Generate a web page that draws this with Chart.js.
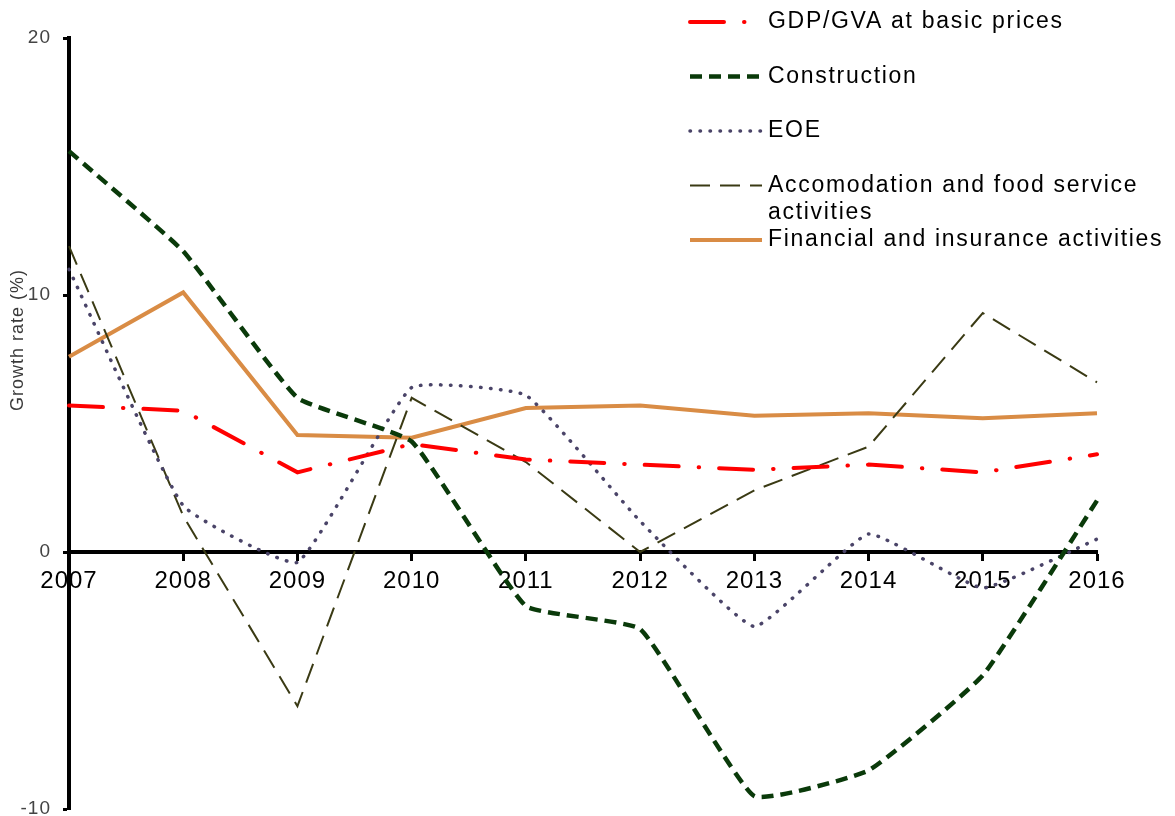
<!DOCTYPE html>
<html>
<head>
<meta charset="utf-8">
<script src="https://cdn.jsdelivr.net/npm/chart.js@4.4.1/dist/chart.umd.min.js"></script>
<style>
  html, body { margin: 0; padding: 0; background: #ffffff; }
  #wrap { width: 1175px; height: 816px; position: relative; }
</style>
</head>
<body>
<div id="wrap"><canvas id="c" width="1175" height="816"></canvas></div>
<script>
// Annual growth rates (%) by sector
const years = ['2007', '2008', '2009', '2010', '2011', '2012', '2013', '2014', '2015', '2016'];
const gdp = [5.7, 5.5, 3.1, 4.2, 3.6, 3.4, 3.2, 3.4, 3.1, 3.8];
const construction = [15.6, 11.7, 6.0, 4.3, -2.1, -3.0, -9.5, -8.5, -4.8, 2.0];
const eoe = [11.0, 1.8, -0.4, 6.4, 6.1, 1.2, -2.9, 0.7, -1.4, 0.5];
const accommodation = [11.9, 1.4, -6.0, 6.0, 3.5, 0.0, 2.4, 4.1, 9.3, 6.6];
const financial = [7.6, 10.1, 4.55, 4.45, 5.6, 5.7, 5.3, 5.4, 5.2, 5.4];
const yTicks = [-10, 0, 10, 20];
const yTitle = 'Growth rate (%)';

const FONT = '"Liberation Sans", Arial, Helvetica, sans-serif';
Chart.defaults.font.family = FONT;

// Slightly open letter spacing for the axis labels
const spacingPlugin = {
  id: 'spacing',
  beforeDraw(chart) { chart.ctx.letterSpacing = '1px'; },
  beforeLayout(chart) { chart.ctx.letterSpacing = '1px'; }
};

// Y axis title, placed beside the upper half of the axis
const yTitlePlugin = {
  id: 'yTitle',
  afterDraw(chart) {
    const ctx = chart.ctx;
    ctx.save();
    ctx.translate(18, 340);
    ctx.rotate(-Math.PI / 2);
    ctx.letterSpacing = '1px';
    ctx.font = '18px ' + FONT;
    ctx.fillStyle = '#3a3a3a';
    ctx.textAlign = 'center';
    ctx.textBaseline = 'middle';
    ctx.fillText(yTitle, 0, 0);
    ctx.restore();
  }
};

// Legend drawn at the top right, over the plot, with wrapped labels
const sideLegend = {
  id: 'sideLegend',
  afterDraw(chart, args, opts) {
    const ctx = chart.ctx;
    ctx.save();
    ctx.font = opts.font;
    ctx.letterSpacing = opts.letterSpacing;
    ctx.textBaseline = 'middle';
    ctx.textAlign = 'left';
    const maxW = chart.width - opts.textX - 4;
    chart.data.datasets.forEach((ds, i) => {
      const y = opts.firstY + i * opts.step;
      ctx.save();
      ctx.strokeStyle = ds.borderColor;
      ctx.lineWidth = ds.borderWidth;
      ctx.lineCap = ds.borderCapStyle || 'butt';
      ctx.setLineDash(ds.borderDash || []);
      ctx.beginPath();
      ctx.moveTo(opts.lineX0, y);
      ctx.lineTo(opts.lineX1, y);
      ctx.stroke();
      ctx.restore();
      // word wrap
      const words = ds.label.split(' ');
      const lines = [];
      let cur = '';
      words.forEach(w => {
        const t = cur ? cur + ' ' + w : w;
        if (ctx.measureText(t).width > maxW && cur) { lines.push(cur); cur = w; }
        else cur = t;
      });
      if (cur) lines.push(cur);
      ctx.fillStyle = '#000000';
      lines.forEach((l, k) => ctx.fillText(l, opts.textX, y + k * opts.lineHeight));
    });
    ctx.restore();
  }
};

new Chart(document.getElementById('c'), {
  type: 'line',
  data: {
    labels: years,
    datasets: [
      {
        label: 'GDP/GVA at basic prices', data: gdp,
        borderColor: '#ff0000', borderWidth: 4, borderDash: [34, 20, 0.5, 20],
        borderCapStyle: 'round', tension: 0, pointRadius: 0, fill: false
      },
      {
        label: 'Construction', data: construction,
        borderColor: '#0a3a0a', borderWidth: 4.5, borderDash: [12, 7],
        borderCapStyle: 'butt', tension: 0.12, pointRadius: 0, fill: false
      },
      {
        label: 'EOE', data: eoe,
        borderColor: '#4a4468', borderWidth: 3.5, borderDash: [0.5, 9.5],
        borderCapStyle: 'round', tension: 0.12, pointRadius: 0, fill: false
      },
      {
        label: 'Accomodation and food service activities', data: accommodation,
        borderColor: '#3a3a14', borderWidth: 2, borderDash: [20, 10],
        borderCapStyle: 'butt', tension: 0, pointRadius: 0, fill: false
      },
      {
        label: 'Financial and insurance activities', data: financial,
        borderColor: '#d98c45', borderWidth: 4, borderDash: [],
        borderCapStyle: 'butt', tension: 0, pointRadius: 0, fill: false
      }
    ]
  },
  options: {
    responsive: false,
    animation: false,
    layout: { padding: { left: 0, right: 78, top: 38, bottom: 7 } },
    plugins: {
      legend: { display: false },
      tooltip: { enabled: false },
      sideLegend: {
        lineX0: 690, lineX1: 762, textX: 768, firstY: 22, step: 54.5, lineHeight: 27,
        font: '23px ' + FONT, letterSpacing: '1.7px'
      }
    },
    scales: {
      x: {
        type: 'category',
        position: { y: 0 },
        offset: false,
        grid: { display: true, drawOnChartArea: false, drawTicks: true, tickLength: 7, tickWidth: 3, tickColor: '#000000' },
        border: { display: true, color: '#000000', width: 4 },
        ticks: { color: '#000000', font: { size: 24 }, padding: 8, maxRotation: 0, autoSkip: false },
        afterFit(s) { s.height = 0; s.paddingLeft = 0; s.paddingRight = 0; }
      },
      y: {
        position: 'left',
        min: -10, max: 20,
        afterBuildTicks(s) { s.ticks = yTicks.map(v => ({ value: v })); },
        grid: { display: true, drawOnChartArea: false, drawTicks: true, tickLength: 6, tickWidth: 3, tickColor: '#000000' },
        border: { display: true, color: '#000000', width: 4 },
        ticks: { color: '#444444', font: { size: 19 }, padding: 12 },
        afterFit(s) { s.width = 69; s.paddingTop = 0; s.paddingBottom = 0; }
      }
    }
  },
  plugins: [spacingPlugin, yTitlePlugin, sideLegend]
});
</script>
</body>
</html>
